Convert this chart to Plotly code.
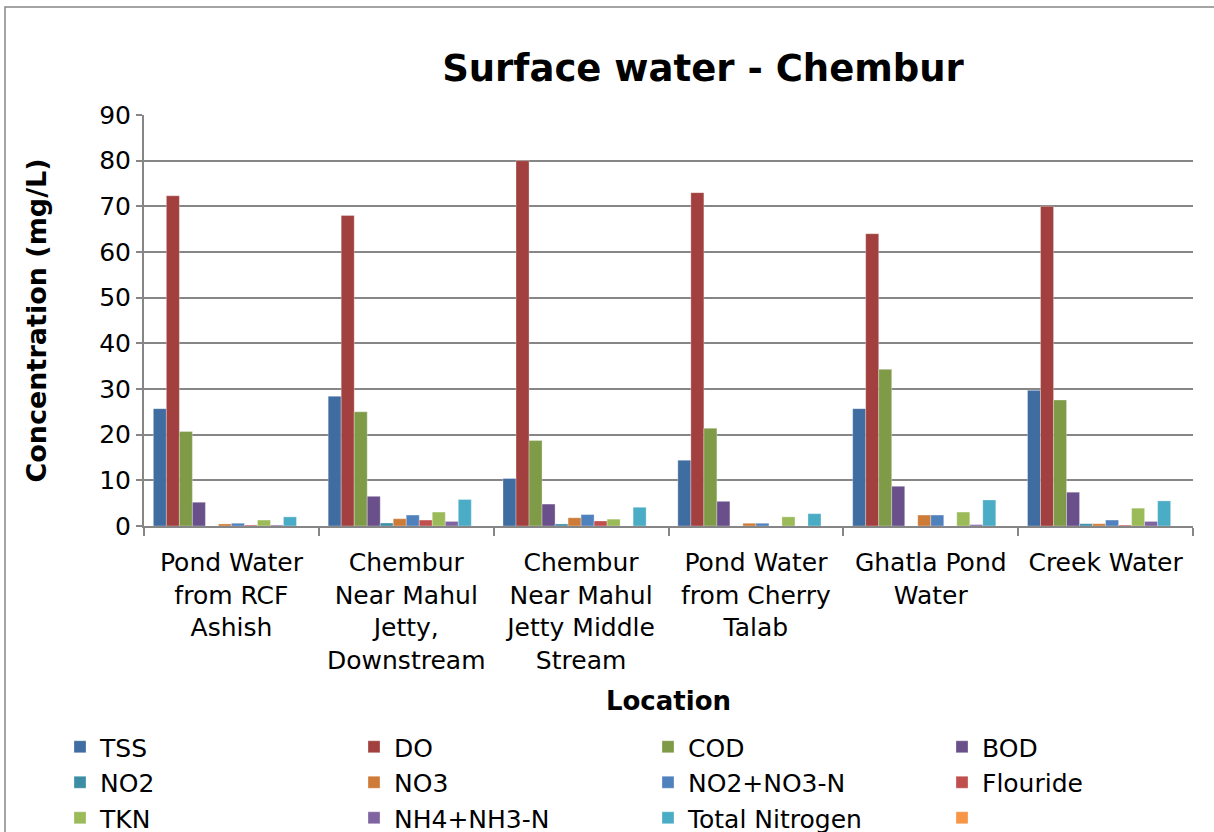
import plotly.graph_objects as go

locations = [
    "Pond Water<br>from RCF<br>Ashish",
    "Chembur<br>Near Mahul<br>Jetty,<br>Downstream",
    "Chembur<br>Near Mahul<br>Jetty Middle<br>Stream",
    "Pond Water<br>from Cherry<br>Talab",
    "Ghatla Pond<br>Water",
    "Creek Water",
]

tss = [25.7, 28.4, 10.4, 14.4, 25.7, 29.7]
do = [72.3, 68.0, 80.0, 73.0, 64.0, 70.0]
cod = [20.7, 25.0, 18.7, 21.4, 34.3, 27.6]
bod = [5.2, 6.5, 4.8, 5.4, 8.7, 7.4]
no2 = [0.0, 0.65, 0.45, 0.0, 0.0, 0.5]
no3 = [0.45, 1.6, 1.8, 0.6, 2.4, 0.5]
no2_no3_n = [0.6, 2.4, 2.5, 0.6, 2.4, 1.3]
flouride = [0.2, 1.3, 1.1, 0.0, 0.0, 0.2]
tkn = [1.3, 3.05, 1.5, 2.0, 3.05, 3.9]
nh4_nh3_n = [0.2, 1.0, 0.0, 0.0, 0.3, 1.0]
total_nitrogen = [2.0, 5.8, 4.1, 2.7, 5.7, 5.5]
blank = [0, 0, 0, 0, 0, 0]

series = [
    ("TSS", tss, "#3F6CA1"),
    ("DO", do, "#A1403E"),
    ("COD", cod, "#7F9B48"),
    ("BOD", bod, "#6A508A"),
    ("NO2", no2, "#3C8EA5"),
    ("NO3", no3, "#CF7B38"),
    ("NO2+NO3-N", no2_no3_n, "#4F81BD"),
    ("Flouride", flouride, "#C0504D"),
    ("TKN", tkn, "#9BBB59"),
    ("NH4+NH3-N", nh4_nh3_n, "#8064A2"),
    ("Total Nitrogen", total_nitrogen, "#4BACC6"),
    (" ", blank, "#F79646"),
]

FONT = "DejaVu Sans"
W, H = 1214, 832
PL, PR, PT, PB = 144, 1193, 115, 526
PW, PH = PR - PL, PB - PT

fig = go.Figure()
for name, vals, col in series:
    fig.add_trace(go.Bar(
        x=locations, y=vals, name=name,
        marker=dict(color=col, line=dict(color="rgba(255,255,255,0.6)", width=0.5)),
    ))

fig.update_layout(
    width=W, height=H,
    paper_bgcolor="white", plot_bgcolor="white",
    barmode="group", bargap=0.107, bargroupgap=0,
    margin=dict(l=PL, r=W - PR, t=PT, b=H - PB, autoexpand=False),
    font=dict(family=FONT, size=25, color="black"),
    title=dict(text="<b>Surface water - Chembur</b>", x=703 / W, xanchor="center",
               y=1 - 68 / H, yanchor="middle", font=dict(family=FONT, size=37, color="black")),
    xaxis=dict(
        title=dict(text="<b>Location</b>", font=dict(family=FONT, size=26), standoff=18),
        showline=True, linecolor="#868686", linewidth=2,
        ticks="outside", tickson="boundaries", ticklen=8, tickcolor="#868686", tickwidth=2,
        ticklabelstandoff=13,
        tickfont=dict(family=FONT, size=25), automargin=False,
    ),
    yaxis=dict(
        title=dict(text="<b>Concentration (mg/L)</b>", font=dict(family=FONT, size=27), standoff=45),
        range=[0, 90], dtick=10,
        showline=True, linecolor="#868686", linewidth=2,
        ticks="outside", ticklen=6, tickcolor="#868686", tickwidth=2,
        showgrid=True, gridcolor="#868686", gridwidth=2,
        zeroline=False, automargin=False,
        tickfont=dict(family=FONT, size=25),
    ),
    legend=dict(
        orientation="h", x=(60 - PL) / PW, xanchor="left",
        y=-(724 - PB) / PH, yanchor="top",
        entrywidth=249, entrywidthmode="pixels",
        font=dict(family=FONT, size=25), itemwidth=30,
        traceorder="normal", tracegroupgap=0,
    ),
    shapes=[dict(type="rect", xref="paper", yref="paper",
                 x0=(5 - PL) / PW, x1=(1220 - PL) / PW,
                 y0=-0.9, y1=(PB - 7) / PH,
                 line=dict(color="#868686", width=1.5), fillcolor="rgba(0,0,0,0)", layer="below")],
)

fig.write_html("out.html", config={"displayModeBar": False},
               post_script="document.body.style.margin='0px';")
